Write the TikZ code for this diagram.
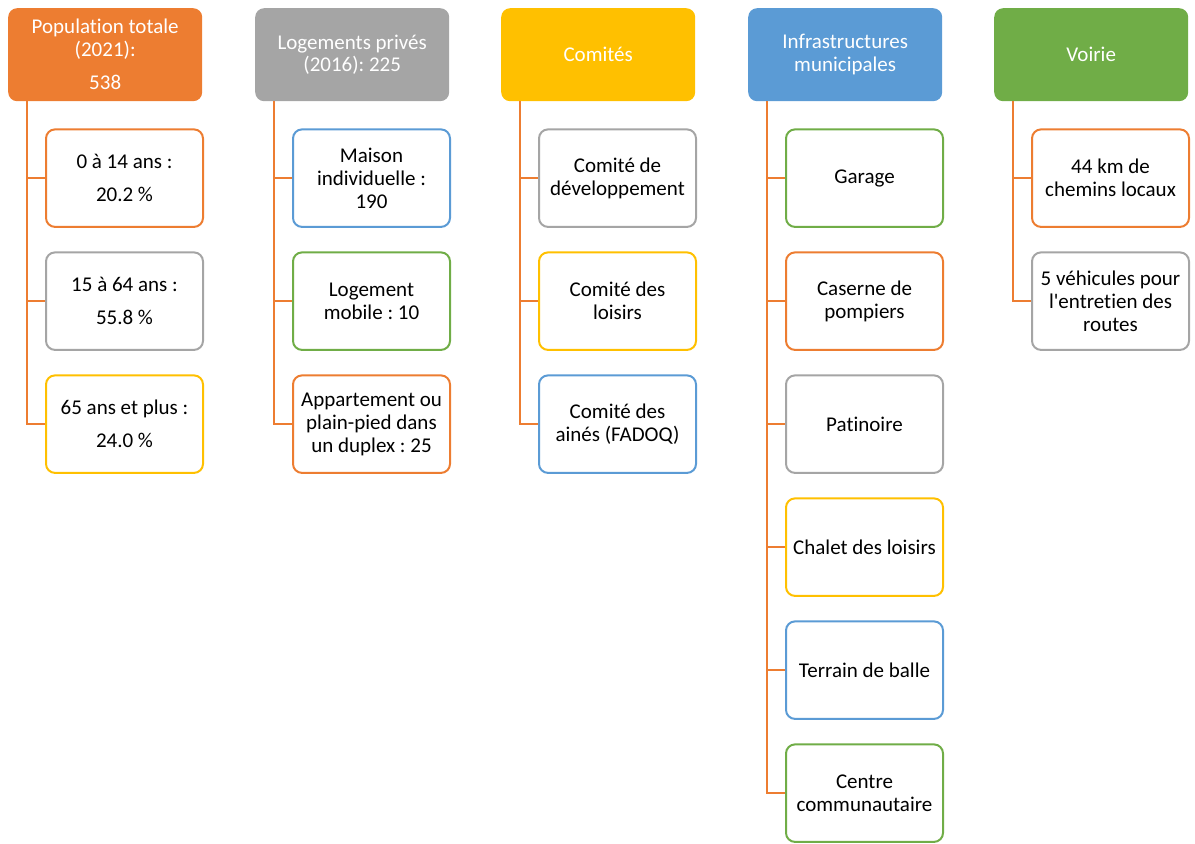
\documentclass[tikz,border=0pt]{standalone}
\usepackage{fontspec}
\setmainfont{Carlito}[Ligatures={TeX,NoCommon}]
\usetikzlibrary{positioning}

\definecolor{cOrange}{HTML}{ED7D31}
\definecolor{cGray}{HTML}{A5A5A5}
\definecolor{cYellow}{HTML}{FFC000}
\definecolor{cBlue}{HTML}{5B9BD5}
\definecolor{cGreen}{HTML}{70AD47}

\tikzset{
	hdr/.style={fill=#1,text=white,rounded corners=9pt,minimum width=194pt,minimum height=93pt,
		inner sep=0pt,anchor=north west,align=center,font=\fontsize{21}{22.5}\selectfont},
	itm/.style={draw=#1,line width=2pt,fill=white,rounded corners=9pt,minimum width=157pt,minimum height=97.5pt,
		inner sep=0pt,align=center,font=\fontsize{21}{23}\selectfont},
	first/.style={below right=27pt and 37pt of #1.south west},
	conn/.style={draw=cOrange,line width=2.2pt},
}

\begin{document}
\frenchspacing
\begin{tikzpicture}[x=1pt,y=-1pt]
	\useasboundingbox (0,0) rectangle (1195,844);

	% en-tetes
	\node[hdr=cOrange](pop) at (8,8){Population totale\\(2021):\\[11pt]538};
	\node[hdr=cGray](log) at (255,8){Logements privés\\(2016): 225};
	\node[hdr=cYellow](com) at (501,8){Comités};
	\node[hdr=cBlue](infra) at (748,8){Infrastructures\\municipales};
	\node[hdr=cGreen](voie) at (994,8){Voirie};

	% population
	\node[itm=cOrange,first=pop](pop1){0 à 14 ans :\\[10pt]20.2 \%};
	\node[itm=cGray,below=23.5pt of pop1](pop2){15 à 64 ans :\\[10pt]55.8 \%};
	\node[itm=cYellow,below=23.5pt of pop2](pop3){65 ans et plus :\\[10pt]24.0 \%};

	% logements
	\node[itm=cBlue,first=log](log1){Maison\\individuelle :\\190};
	\node[itm=cGreen,below=23.5pt of log1](log2){Logement\\mobile : 10};
	\node[itm=cOrange,below=23.5pt of log2](log3){Appartement ou\\plain-pied dans\\un duplex : 25};

	% comites
	\node[itm=cGray,first=com](com1){Comité de\\développement};
	\node[itm=cYellow,below=23.5pt of com1](com2){Comité des\\loisirs};
	\node[itm=cBlue,below=23.5pt of com2](com3){Comité des\\ainés (FADOQ)};

	% infrastructures
	\node[itm=cGreen,first=infra](inf1){Garage};
	\node[itm=cOrange,below=23.5pt of inf1](inf2){Caserne de\\pompiers};
	\node[itm=cGray,below=23.5pt of inf2](inf3){Patinoire};
	\node[itm=cYellow,below=23.5pt of inf3](inf4){Chalet des loisirs};
	\node[itm=cBlue,below=23.5pt of inf4](inf5){Terrain de balle};
	\node[itm=cGreen,below=23.5pt of inf5](inf6){Centre\\communautaire};

	% voirie
	\node[itm=cOrange,first=voie](voie1){44 km de\\chemins locaux};
	\node[itm=cGray,below=23.5pt of voie1](voie2){5 véhicules pour\\l\textquotesingle entretien des\\routes};

	% troncs
	\coordinate[right=19pt of pop.south west](tpop);
	\coordinate[right=19pt of log.south west](tlog);
	\coordinate[right=19pt of com.south west](tcom);
	\coordinate[right=19pt of infra.south west](tinfra);
	\coordinate[right=19pt of voie.south west](tvoie);

	\draw[conn] (tpop) |- (pop3.west);
	\draw[conn] (tpop |- pop1.west) -- (pop1.west);
	\draw[conn] (tpop |- pop2.west) -- (pop2.west);

	\draw[conn] (tlog) |- (log3.west);
	\draw[conn] (tlog |- log1.west) -- (log1.west);
	\draw[conn] (tlog |- log2.west) -- (log2.west);

	\draw[conn] (tcom) |- (com3.west);
	\draw[conn] (tcom |- com1.west) -- (com1.west);
	\draw[conn] (tcom |- com2.west) -- (com2.west);

	\draw[conn] (tinfra) |- (inf6.west);
	\draw[conn] (tinfra |- inf1.west) -- (inf1.west);
	\draw[conn] (tinfra |- inf2.west) -- (inf2.west);
	\draw[conn] (tinfra |- inf3.west) -- (inf3.west);
	\draw[conn] (tinfra |- inf4.west) -- (inf4.west);
	\draw[conn] (tinfra |- inf5.west) -- (inf5.west);

	\draw[conn] (tvoie) |- (voie2.west);
	\draw[conn] (tvoie |- voie1.west) -- (voie1.west);
\end{tikzpicture}
\end{document}
